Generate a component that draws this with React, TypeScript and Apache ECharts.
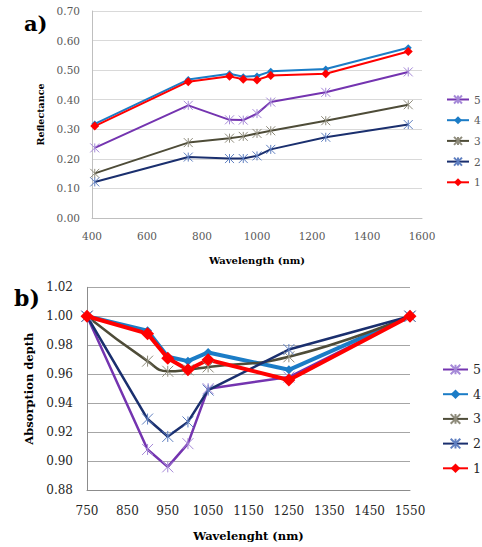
import React, { useEffect, useRef } from "react";
import * as echarts from "echarts";

// ---- Chart a) Reflectance ----
const topWavelengths = [410, 750, 900, 950, 1000, 1050, 1250, 1550];
const topS5 = [0.237, 0.381, 0.332, 0.331, 0.353, 0.392, 0.425, 0.494];
const topS4 = [0.318, 0.468, 0.488, 0.478, 0.48, 0.496, 0.504, 0.576];
const topS3 = [0.151, 0.255, 0.27, 0.276, 0.286, 0.295, 0.329, 0.383];
const topS2 = [0.122, 0.206, 0.201, 0.201, 0.21, 0.232, 0.273, 0.316];
const topS1 = [0.311, 0.461, 0.479, 0.469, 0.467, 0.482, 0.488, 0.563];

// ---- Chart b) Absorption depth ----
const botWavelengths = [750, 900, 950, 1000, 1050, 1250, 1550];
const botS5 = [1.0, 0.908, 0.896, 0.912, 0.95, 0.958, 1.0];
const botS4 = [1.0, 0.99, 0.972, 0.969, 0.975, 0.963, 1.0];
const botS3 = [1.0, 0.969, 0.962, 0.963, 0.965, 0.972, 1.0];
const botS2 = [1.0, 0.929, 0.917, 0.927, 0.949, 0.977, 1.0];
const botS1 = [1.0, 0.988, 0.971, 0.963, 0.97, 0.956, 1.0];

const seriesNames = ["5", "4", "3", "2", "1"];
const botXTicks = [750, 850, 950, 1050, 1150, 1250, 1350, 1450, 1550];

const STAR = "path://M0,0L10,10M10,0L0,10M5,0L5,10";
const SERIF = "DejaVu Serif";

const pair = (xs: number[], ys: number[]) => xs.map((x, i) => [x, ys[i]]);

const lineColors: Record<string, string> = {
  "5": "#7434b0",
  "4": "#1b7cc6",
  "3": "#4e4c38",
  "2": "#1a2f6e",
  "1": "#ff0000",
};
const markColors: Record<string, string> = {
  "5": "#a68ad8",
  "4": "#1b7cc6",
  "3": "#8f8c7c",
  "2": "#5f7fc0",
  "1": "#ff0000",
};

function makeSeries(name: string, data: number[][], big: boolean, smooth = false) {
  const isStar = name === "5" || name === "3" || name === "2";
  const lw = big ? (name === "4" || name === "1" ? 4 : 2.5) : 2;
  const symbolSize = isStar ? (big ? 11 : 9) : name === "1" ? (big ? 13 : 9) : big ? 9 : 7;
  return {
    type: "line",
    name,
    data,
    smooth,
    color: lineColors[name],
    symbol: isStar ? STAR : "diamond",
    symbolSize,
    showSymbol: true,
    lineStyle: { color: lineColors[name], width: lw },
    itemStyle: isStar
      ? { color: "transparent", borderColor: markColors[name], borderWidth: 1 }
      : { color: markColors[name], borderColor: markColors[name], borderWidth: 0 },
    emphasis: { disabled: true },
  };
}

export default function App() {
  const topRef = useRef<HTMLDivElement>(null);
  const botRef = useRef<HTMLDivElement>(null);

  useEffect(() => {
    const top = echarts.init(topRef.current!, undefined, { renderer: "svg" });
    const bot = echarts.init(botRef.current!, undefined, { renderer: "svg" });

    top.setOption({
      animation: false,
      title: {
        text: "a)",
        left: 19,
        top: 8,
        textStyle: { fontFamily: SERIF, fontSize: 21, fontWeight: "bold", color: "#000" },
      },
      grid: { left: 92, right: 60, top: 11, bottom: 49 },
      xAxis: {
        type: "value",
        min: 400,
        max: 1600,
        interval: 200,
        axisLine: { show: true, lineStyle: { color: "#bfbfbf", width: 1 } },
        axisTick: { show: false },
        splitLine: { show: false },
        axisLabel: {
          margin: 12,
          fontFamily: SERIF,
          fontSize: 10.5,
          color: "#595959",
          formatter: (v: number) => String(v),
        },
        name: "Wavelength (nm)",
        nameLocation: "middle",
        nameGap: 37,
        nameTextStyle: { fontFamily: SERIF, fontWeight: "bold", fontSize: 10, color: "#000" },
      },
      yAxis: {
        type: "value",
        min: 0,
        max: 0.7,
        interval: 0.1,
        axisLine: { show: true, lineStyle: { color: "#bfbfbf", width: 1 } },
        axisTick: { show: false },
        splitLine: { show: true, lineStyle: { color: "#d9d9d9", width: 1 } },
        axisLabel: {
          margin: 12,
          fontFamily: SERIF,
          fontSize: 10.5,
          color: "#595959",
          formatter: (v: number) => v.toFixed(2),
        },
        name: "Reflectance",
        nameLocation: "middle",
        nameGap: 44,
        nameTextStyle: { fontFamily: SERIF, fontWeight: "bold", fontSize: 9.5, color: "#000" },
      },
      legend: {
        orient: "vertical",
        left: 446,
        top: 94,
        padding: 0,
        itemWidth: 22,
        itemHeight: 10,
        itemGap: 9.7,
        textStyle: { fontFamily: SERIF, fontSize: 10.5, color: "#595959" },
        data: seriesNames,
      },
      series: [
        makeSeries("5", pair(topWavelengths, topS5), false),
        makeSeries("4", pair(topWavelengths, topS4), false),
        makeSeries("3", pair(topWavelengths, topS3), false),
        makeSeries("2", pair(topWavelengths, topS2), false),
        makeSeries("1", pair(topWavelengths, topS1), false),
      ],
    });

    bot.setOption({
      animation: false,
      title: {
        text: "b)",
        left: 9,
        top: 12,
        textStyle: { fontFamily: SERIF, fontSize: 22, fontWeight: "bold", color: "#000" },
      },
      grid: { left: 87, right: 72, top: 17.3, bottom: 56 },
      xAxis: {
        type: "value",
        min: 750,
        max: 1550,
        interval: 100,
        axisLine: { show: true, lineStyle: { color: "#8c8c8c", width: 1 } },
        axisTick: { show: false },
        splitLine: { show: false },
        axisLabel: {
          margin: 15,
          fontFamily: SERIF,
          fontSize: 12,
          color: "#262626",
          customValues: botXTicks,
          formatter: (v: number) => String(v),
        },
        name: "Wavelenght (nm)",
        nameLocation: "middle",
        nameGap: 40,
        nameTextStyle: { fontFamily: SERIF, fontWeight: "bold", fontSize: 11.5, color: "#000" },
      },
      yAxis: {
        type: "value",
        min: 0.88,
        max: 1.02,
        interval: 0.02,
        axisLine: { show: true, lineStyle: { color: "#8c8c8c", width: 1 } },
        axisTick: { show: false },
        splitLine: { show: true, lineStyle: { color: "#a6a6a6", width: 1 } },
        axisLabel: {
          margin: 14,
          fontFamily: SERIF,
          fontSize: 12,
          color: "#262626",
          formatter: (v: number) => v.toFixed(2),
        },
        name: "Absorption depth",
        nameLocation: "middle",
        nameGap: 50,
        nameTextStyle: { fontFamily: SERIF, fontWeight: "bold", fontSize: 11.5, color: "#000" },
      },
      legend: {
        orient: "vertical",
        left: 442,
        top: 93,
        padding: 0,
        itemWidth: 25,
        itemHeight: 12,
        itemGap: 11.7,
        textStyle: { fontFamily: SERIF, fontSize: 12.5, color: "#262626" },
        data: seriesNames,
      },
      series: [
        makeSeries("5", pair(botWavelengths, botS5), true),
        makeSeries("4", pair(botWavelengths, botS4), true),
        makeSeries("3", pair(botWavelengths, botS3), true, true),
        makeSeries("2", pair(botWavelengths, botS2), true),
        makeSeries("1", pair(botWavelengths, botS1), true),
      ],
    });

    return () => {
      top.dispose();
      bot.dispose();
    };
  }, []);

  return (
    <div style={{ position: "absolute", left: 0, top: 0, width: 482, height: 547, background: "#fff" }}>
      <div ref={topRef} style={{ position: "absolute", left: 0, top: 0, width: 482, height: 270 }} />
      <div ref={botRef} style={{ position: "absolute", left: 0, top: 270, width: 482, height: 277 }} />
    </div>
  );
}
